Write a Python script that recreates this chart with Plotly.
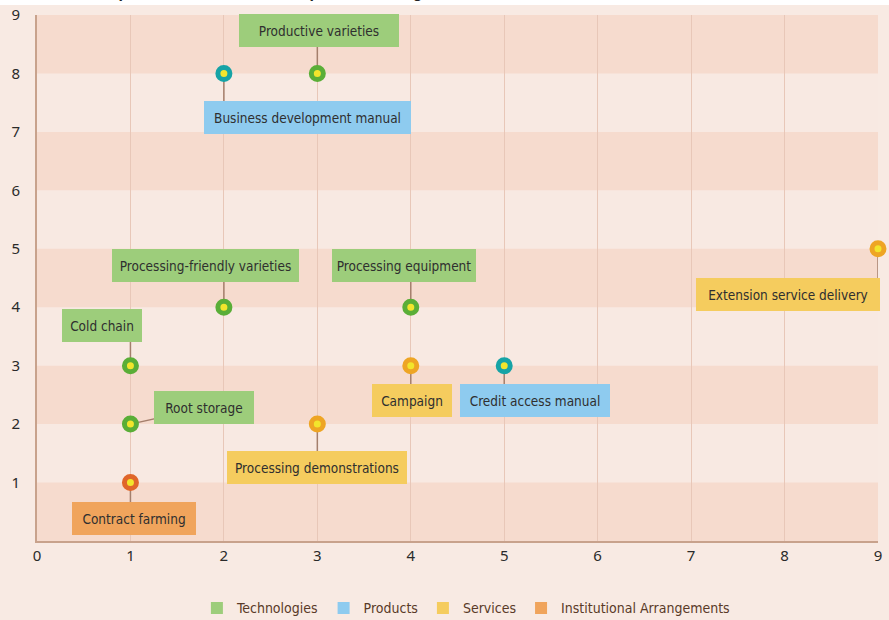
import plotly.graph_objects as go

# ---------------- data ----------------
categories = ["Technologies", "Products", "Services", "Institutional Arrangements"]

labels = [
    "Productive varieties",
    "Business development manual",
    "Processing-friendly varieties",
    "Processing equipment",
    "Cold chain",
    "Root storage",
    "Contract farming",
    "Processing demonstrations",
    "Campaign",
    "Credit access manual",
    "Extension service delivery",
]
x_vals = [3, 2, 2, 4, 1, 1, 1, 3, 4, 5, 9]
y_vals = [8, 8, 4, 4, 3, 2, 1, 2, 3, 3, 5]
label_cat = [
    "Technologies", "Products", "Technologies", "Technologies", "Technologies",
    "Technologies", "Institutional Arrangements", "Services", "Services",
    "Products", "Services",
]

x_ticks = list(range(0, 10))
y_ticks = list(range(1, 10))

# ---------------- layout / style ----------------
label_pos_x = [3.02, 2.89, 1.80, 3.93, 0.70, 1.79, 1.04, 3.00, 4.01, 5.33, 8.04]
label_pos_y = [8.73, 7.25, 4.71, 4.71, 3.68, 2.28, 0.39, 1.25, 2.40, 2.40, 4.21]
label_box_w = [160, 207, 187, 144, 80, 100, 124, 180, 80, 150, 184]
connector_direct = [False, False, False, False, False, True, False, False, False, False, False]

box_colors = {
    "Technologies": "#9dcd7b",
    "Products": "#8ecbef",
    "Services": "#f5cc5e",
    "Institutional Arrangements": "#f0a45c",
}
ring_colors = {
    "Technologies": "#5aae37",
    "Products": "#16a3a6",
    "Services": "#eea524",
    "Institutional Arrangements": "#e0662a",
}
inner_yellow = "#f2e52c"
page_bg = "#f8eae3"
band_dark = "#f6dbce"
band_light = "#f8e9e2"
label_font = "DejaVu Sans Condensed, Liberation Sans Narrow, sans-serif"

fig = go.Figure()

# connector lines (drawn first, under markers and label boxes)
for i in range(len(labels)):
    end_x = label_pos_x[i] if connector_direct[i] else x_vals[i]
    fig.add_trace(go.Scatter(
        x=[x_vals[i], end_x], y=[y_vals[i], label_pos_y[i]], mode="lines",
        showlegend=False, hoverinfo="skip", cliponaxis=False,
        line=dict(color="#a47f6c", width=1.5),
    ))

# points per category
for cat in categories:
    xs = [x for x, c in zip(x_vals, label_cat) if c == cat]
    ys = [y for y, c in zip(y_vals, label_cat) if c == cat]
    fig.add_trace(go.Scatter(
        x=xs, y=ys, mode="markers", showlegend=False, cliponaxis=False,
        hoverinfo="skip",
        marker=dict(size=12, color=inner_yellow,
                    line=dict(width=5, color=ring_colors[cat])),
    ))

# legend entries
for cat in categories:
    fig.add_trace(go.Scatter(
        x=[None], y=[None], mode="markers", name=cat,
        marker=dict(symbol="square", size=16, color=box_colors[cat]),
    ))

# label boxes
annotations = []
for i, lab in enumerate(labels):
    cat = label_cat[i]
    annotations.append(dict(
        x=label_pos_x[i], y=label_pos_y[i], xref="x", yref="y",
        text=lab, showarrow=False,
        bgcolor=box_colors[cat], borderpad=4, borderwidth=0,
        width=label_box_w[i] - 8, height=25, align="center",
        font=dict(family=label_font, size=13.5, color="#2f2f2f"),
    ))

# partially visible title at the very top (cut off as in the source)
annotations.append(dict(
    x=0, y=1, xref="paper", yref="paper", xanchor="left", yanchor="bottom",
    xshift=-45, yshift=12, showarrow=False,
    text="<b>Innovation over-pairs for baked and fried products in Uganda in 2022</b>",
    font=dict(family="Liberation Sans, Arial, sans-serif", size=16, color="#222"),
))

# alternating horizontal bands
shapes = []
for lo in range(0, 9, 2):
    shapes.append(dict(type="rect", xref="paper", yref="y", x0=0, x1=1,
                       y0=lo, y1=lo + 1, fillcolor=band_dark, line_width=0,
                       layer="below"))
# white strip at very top
shapes.append(dict(type="rect", xref="paper", yref="paper", x0=-0.1, x1=1.1,
                   y0=1.019, y1=1.06, fillcolor="white", line_width=0,
                   layer="below"))

fig.update_layout(
    width=889, height=620,
    margin=dict(l=37, r=11, t=15, b=79, autoexpand=False),
    paper_bgcolor=page_bg, plot_bgcolor=band_light,
    shapes=shapes, annotations=annotations,
    showlegend=True,
    legend=dict(orientation="h", x=0.51, xanchor="center", y=-0.128,
                yanchor="middle", bgcolor="rgba(0,0,0,0)",
                font=dict(family=label_font, size=14, color="#5a3a28"),
                itemsizing="constant", traceorder="normal"),
    font=dict(family="Noto Sans, Open Sans, sans-serif"),
)
fig.update_xaxes(
    range=[0, 9], tickvals=x_ticks, showgrid=True, gridcolor="#e8c7b8",
    gridwidth=1, showline=True, linecolor="#c8a28c", linewidth=2,
    zeroline=False, ticks="", tickfont=dict(size=15, color="#2a2a2a"),
    fixedrange=True,
)
fig.update_yaxes(
    range=[0, 9], tickvals=y_ticks, showgrid=False, showline=True,
    linecolor="#c8a28c", linewidth=2, zeroline=False, ticks="",
    tickfont=dict(size=15, color="#2a2a2a"), ticklabelstandoff=12,
    fixedrange=True,
)

fig.write_html("out.html")
